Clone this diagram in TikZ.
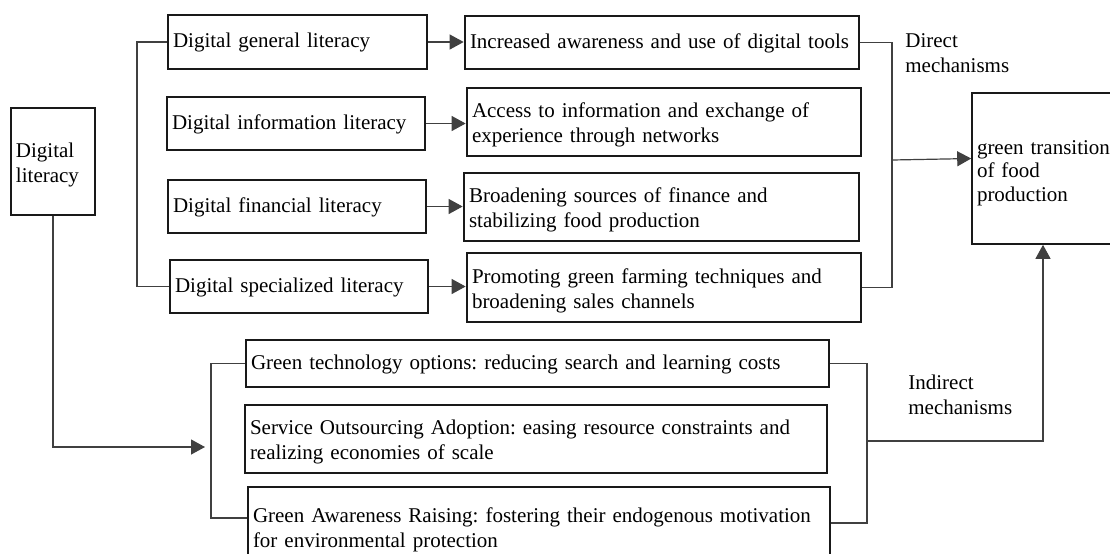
\documentclass[tikz,border=0pt]{standalone}
\usepackage{fontspec}
\setmainfont{Liberation Serif}
\usetikzlibrary{arrows.meta}

\begin{document}
\frenchspacing
\begin{tikzpicture}[x=0.5pt, y=-0.5pt, >={Triangle[length=7pt,width=7.5pt]},
    font=\fontsize{10.5}{12.5}\selectfont,
    mainbox/.style={draw=black!90, line width=1.35pt, inner xsep=2.5pt, inner ysep=0pt, align=left,
        execute at begin node={\rule{0pt}{8.2pt}}},
    tallbox/.style={mainbox, execute at begin node={\rule{0pt}{10.5pt}}},
    conn/.style={draw=black!75, line width=0.6pt},
    lbl/.style={inner sep=0pt, align=left, anchor=west}]
    \useasboundingbox (0,0) rectangle (1110,553);
    \clip (0,0) rectangle (1110,553);

    % Digital literacy
    \node[tallbox, line width=1.1pt, text width=37pt, minimum height=53.5pt] (lit) at (53,161.5) {Digital\\literacy};

    % Four dimensions
    \node[mainbox, text width=124.5pt, minimum height=27pt] (gen) at (297.5,42) {Digital general literacy};
    \node[mainbox, text width=124pt, minimum height=26.5pt] (info) at (296,123.5) {Digital information literacy};
    \node[mainbox, text width=124pt, minimum height=26.5pt] (fin) at (297,206.5) {Digital financial literacy};
    \node[mainbox, text width=124pt, minimum height=26.5pt] (spec) at (299,286.5) {Digital specialized literacy};

    % Direct mechanisms
    \node[mainbox, text width=192pt, minimum height=26.5pt] (aware) at (662,42.5) {Increased awareness and use of digital tools};
    \node[tallbox, text width=192pt, minimum height=34pt] (access) at (664,122) {Access to information and exchange of\\experience through networks};
    \node[tallbox, text width=192.5pt, minimum height=34pt] (finance) at (661.5,207) {Broadening sources of finance and\\stabilizing food production};
    \node[tallbox, text width=192pt, minimum height=34.5pt] (promote) at (664,287.5) {Promoting green farming techniques and\\broadening sales channels};

    % Outcome
    \node[mainbox, line width=0.8pt, font=\fontsize{10.5}{11.7}\selectfont, execute at begin node={\rule{0pt}{11.5pt}},
        text width=79pt, minimum height=75.5pt] (green) at (1056,168.5) {green transition\\of food\\production};

    % Indirect mechanisms
    \node[mainbox, text width=286.5pt, minimum height=23.5pt] (tech) at (537.5,363.5) {Green technology options: reducing search and learning costs};
    \node[tallbox, text width=286pt, minimum height=34pt] (service) at (536,439) {Service Outsourcing Adoption: easing resource constraints and\\realizing economies of scale};
    \node[tallbox, text width=286pt, minimum height=40pt] (raise) at (539,527) {Green Awareness Raising: fostering their endogenous motivation\\for environmental protection};

    % Labels
    \node[lbl] (dlab) at (905,53.5) {Direct\\mechanisms};
    \node[lbl] (ilab) at (908,394.5) {Indirect\\mechanisms};

    % Brackets and arrows
    \coordinate (ubr) at (137,160);
    \coordinate (ltip) at (205,447);
    \coordinate (lbr) at (211,447);
    \coordinate (dbr) at (892,160);
    \coordinate (ibr) at (867,441);
    \coordinate (gin) at (1043,441);

    \draw[conn] (gen.west) -| (ubr) |- (spec.west);
    \draw[conn, ->] (gen.east) -- (gen.east -| aware.west);
    \draw[conn, ->] (info.east) -- (info.east -| access.west);
    \draw[conn, ->] (fin.east) -- (fin.east -| finance.west);
    \draw[conn, ->] (spec.east) -- (spec.east -| promote.west);

    \draw[conn] (aware.east) -| (dbr) |- (promote.east);
    \draw[conn, ->] (dbr) -- ([yshift=5pt]green.west);

    \draw[conn, ->] (lit.south) |- (ltip);
    \draw[conn] (tech.west) -| (lbr) |- ([yshift=4.5pt]raise.west);
    \draw[conn] (tech.east) -| (ibr) |- ([yshift=2pt]raise.east);
    \draw[conn, ->] (ibr) -- (gin) -- (gin |- green.south);
\end{tikzpicture}
\end{document}
